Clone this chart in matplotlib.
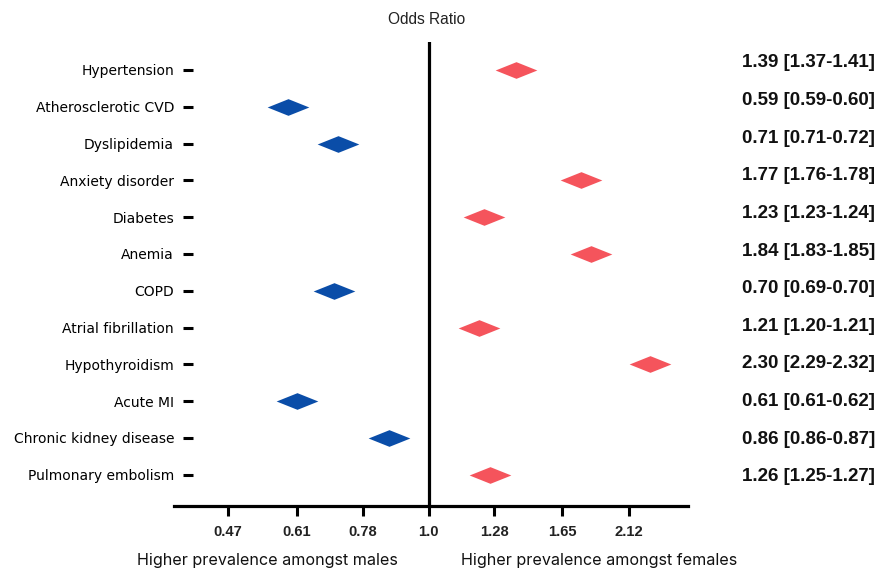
import matplotlib
matplotlib.use("Agg")
import matplotlib.pyplot as plt
from matplotlib.path import Path
import numpy as np

conditions = ["Hypertension", "Atherosclerotic CVD", "Dyslipidemia", "Anxiety disorder",
              "Diabetes", "Anemia", "COPD", "Atrial fibrillation", "Hypothyroidism",
              "Acute MI", "Chronic kidney disease", "Pulmonary embolism"]
odds = [1.39, 0.59, 0.71, 1.77, 1.23, 1.84, 0.70, 1.21, 2.30, 0.61, 0.86, 1.26]
ci_low = [1.37, 0.59, 0.71, 1.76, 1.23, 1.83, 0.69, 1.20, 2.29, 0.61, 0.86, 1.25]
ci_high = [1.41, 0.60, 0.72, 1.78, 1.24, 1.85, 0.70, 1.21, 2.32, 0.62, 0.87, 1.27]
xticks = [0.47, 0.61, 0.78, 1.0, 1.28, 1.65, 2.12]
xticklabels = ["0.47", "0.61", "0.78", "1.0", "1.28", "1.65", "2.12"]

W, H = 876, 569
fig = plt.figure(figsize=(W / 100, H / 100), dpi=100)
ax = fig.add_axes([174 / W, (H - 506) / H, (688 - 174) / W, (506 - 42) / H])

diamond = Path([(-1, 0), (0, 0.4), (1, 0), (0, -0.4), (-1, 0)],
               [Path.MOVETO, Path.LINETO, Path.LINETO, Path.LINETO, Path.CLOSEPOLY])

ys = np.arange(len(conditions))
for y, o in zip(ys, odds):
    col = "#f5545c" if o > 1 else "#0a4da8"
    ax.plot([o], [y], marker=diamond, markersize=30, color=col, linestyle="none",
            markeredgewidth=0)

ax.set_xscale("log")
ax.set_xlim(0.384, 2.65)
ax.set_ylim(len(conditions) - 1 + 0.85, -0.76)
ax.axvline(1.0, color="black", lw=2.3)

ax.set_xticks(xticks)
ax.set_xticklabels(xticklabels, fontsize=10.6, fontweight="bold", family="Liberation Sans",
                   color="#222222")
ax.xaxis.set_minor_locator(matplotlib.ticker.NullLocator())
ax.tick_params(axis="x", length=7, width=2.2, pad=7)

ax.set_yticks(ys)
ax.set_yticklabels(conditions, fontsize=11.7, family="Liberation Sans", color="#333333")
ax.spines["left"].set_position(("outward", -14))
ax.spines["left"].set_color("none")
ax.tick_params(axis="y", length=7, width=2.2, pad=7)

for s in ["top", "right"]:
    ax.spines[s].set_visible(False)
ax.spines["bottom"].set_linewidth(2.3)

blend = matplotlib.transforms.blended_transform_factory(fig.transFigure, ax.transData)
for i, (o, lo, hi) in enumerate(zip(odds, ci_low, ci_high)):
    ax.text(875 / W, i - 0.19 + 0.022 * i, f"{o:.2f} [{lo:.2f}-{hi:.2f}]",
            transform=blend, ha="right", va="center", fontsize=13.5, fontweight="bold",
            family="Liberation Sans", color="#111111")

fig.text(427 / W, 1 - 19 / H, "Odds Ratio", ha="center", va="center", fontsize=11.2,
         family="Liberation Sans", color="#222222")
fig.text(267 / W, 1 - 560 / H, "Higher prevalence amongst males", ha="center", va="center",
         fontsize=11.6, family="Inter", color="#111111")
fig.text(599 / W, 1 - 560 / H, "Higher prevalence amongst females", ha="center", va="center",
         fontsize=11.6, family="Inter", color="#111111")

fig.savefig("out.png", dpi=100)
